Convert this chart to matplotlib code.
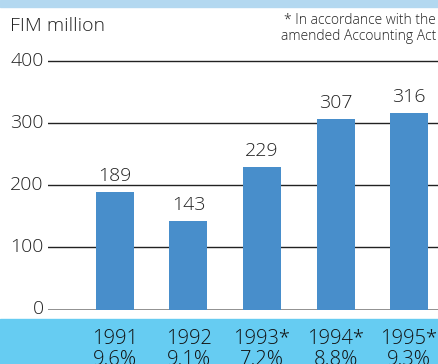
import matplotlib.pyplot as plt
from matplotlib.patches import Rectangle

years = ['1991', '1992', '1993*', '1994*', '1995*']
margins = ['9.6%', '9.1%', '7.2%', '8.8%', '9.3%']
profit = [189, 143, 229, 307, 316]
yticks = [0, 100, 200, 300, 400]

plt.rcParams['font.family'] = ['Open Sans', 'DejaVu Sans']
plt.rcParams['font.weight'] = 'light'

W, H = 439, 364
fig = plt.figure(figsize=(W / 100, H / 100), dpi=100)

# background bands
fig.patches.append(Rectangle((0, 1 - 7 / H), 1, 7 / H, transform=fig.transFigure,
                             color='#b3d8f0', zorder=-5))
fig.patches.append(Rectangle((0, 0), 1, 45 / H, transform=fig.transFigure,
                             color='#66ccf2', zorder=-5))

# axes: 0 at y=309.5px, 400 at y=61px; from x=48px to right edge
px_per_unit = (309.5 - 61) / 400
bottom = (H - 309.5) / H
top_px = 8
ax = fig.add_axes([48 / W, bottom, 1 - 48 / W, (309.5 - top_px) / H])
ax.set_ylim(0, (309.5 - top_px) / px_per_unit)
step = 73.5
ax.set_xlim(-(115 - 48) / step, 4 + (W - 409) / step)
ax.patch.set_alpha(0)
for s in ax.spines.values():
    s.set_visible(False)

for v in yticks:
    if v == 0:
        ax.axhline(v, color='#707070', lw=1.8, zorder=1)
    else:
        ax.axhline(v, color='#222222', lw=1.0, zorder=1)

x = range(len(years))
ax.bar(x, profit, width=38 / step, color='#488ecb', zorder=2)
for i, v in zip(x, profit):
    ax.annotate(str(v), (i, v), xytext=(0, 5), textcoords='offset points',
                ha='center', va='bottom', fontsize=14, color='#222222')

ax.set_yticks(yticks)
ax.set_yticklabels([str(v) for v in yticks], fontsize=14, color='#222222')
ax.set_xticks(list(x))
ax.set_xticklabels([f'{y}\n{m}' for y, m in zip(years, margins)],
                   fontsize=14.5, color='#111111', linespacing=1.05)
ax.tick_params(axis='y', length=0, pad=3)
ax.tick_params(axis='x', length=0, pad=14)
for lbl in ax.get_yticklabels():
    lbl.set_verticalalignment('center')

fig.text(10 / W, 1 - 31 / H, 'FIM million', fontsize=14, color='#222222')
fig.text(436 / W, 1 - 13 / H, '* In accordance with the\namended Accounting Act',
         fontsize=10, color='#222222', ha='right', va='top', linespacing=1.1)

fig.savefig('out.png', dpi=100)
